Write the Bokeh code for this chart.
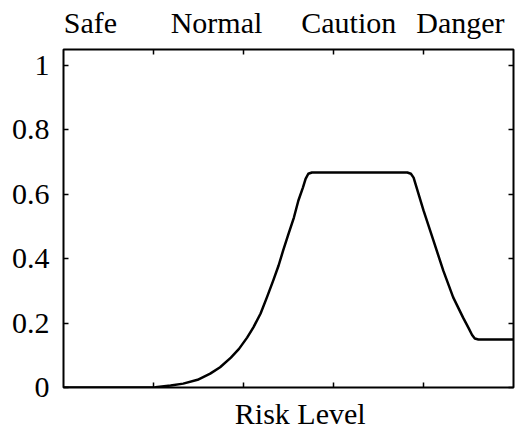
from bokeh.plotting import figure
from bokeh.models import LinearAxis, FixedTicker, Range1d
from bokeh.embed import file_html
from bokeh.resources import INLINE

# Data
risk_x = [0, 0.5, 0.8, 1.02, 1.19, 1.33, 1.49, 1.63, 1.74, 1.86, 1.95, 2.04, 2.11, 2.19,
          2.26, 2.33, 2.39, 2.44, 2.50, 2.56, 2.61, 2.66, 2.69, 2.72, 2.76, 3.82, 3.86,
          3.89, 4.0, 4.11, 4.22, 4.33, 4.44, 4.50, 4.54, 4.57, 4.61, 5.0]
membership = [0, 0, 0, 0.001, 0.006, 0.012, 0.024, 0.043, 0.063, 0.093, 0.12, 0.155,
              0.187, 0.23, 0.28, 0.332, 0.379, 0.425, 0.477, 0.528, 0.581, 0.621, 0.648,
              0.664, 0.668, 0.668, 0.664, 0.652, 0.55, 0.457, 0.363, 0.28, 0.217, 0.185,
              0.163, 0.152, 0.149, 0.149]

category_labels = ["Safe", "Normal", "Caution", "Danger"]
category_pos = [0.30, 1.70, 3.17, 4.41]
x_ticks = [1, 2, 3, 4]
y_ticks = [0, 0.2, 0.4, 0.6, 0.8, 1.0]
x_label = "Risk Level"
x_label_pos = 2.63

FONT = "'Liberation Serif', 'Times New Roman', serif"
FS = "30px"

p = figure(width=527, height=432, output_backend="svg", toolbar_location=None,
           x_range=Range1d(0, 5), y_range=Range1d(0, 1.05),
           x_axis_location=None, y_axis_location=None,
           min_border_left=63, min_border_right=14, min_border_top=49, min_border_bottom=45)
p.grid.visible = False
p.outline_line_color = "black"
p.outline_line_width = 2
p.background_fill_color = "white"
p.border_fill_color = "white"


def style_axis(ax, major, minor, standoff=0):
    ax.ticker = FixedTicker(ticks=major, minor_ticks=minor)
    ax.axis_line_color = None
    ax.major_tick_in = 0
    ax.major_tick_out = 0
    ax.minor_tick_in = 5
    ax.minor_tick_out = 0
    ax.minor_tick_line_width = 1.5
    ax.minor_tick_line_color = "black"
    ax.major_label_text_font = FONT
    ax.major_label_text_font_size = FS
    ax.major_label_text_color = "black"
    ax.major_label_standoff = standoff


left = LinearAxis()
style_axis(left, y_ticks, [], 14)
left.major_tick_in = 5
left.major_tick_line_width = 1.5
left.major_tick_line_color = "black"
left.major_label_overrides = {0: "0", 1: "1"}
p.add_layout(left, "left")

right = LinearAxis()
style_axis(right, [], y_ticks)
p.add_layout(right, "right")

bottom = LinearAxis()
style_axis(bottom, [x_label_pos], x_ticks, 9)
bottom.major_label_overrides = {x_label_pos: x_label}
p.add_layout(bottom, "below")

top = LinearAxis()
style_axis(top, category_pos, x_ticks, 11)
top.major_label_overrides = {pos: name for pos, name in zip(category_pos, category_labels)}
p.add_layout(top, "above")

p.line(risk_x, membership, line_color="black", line_width=2.5, line_join="round")

open("out.html", "w").write(file_html(p, INLINE))
